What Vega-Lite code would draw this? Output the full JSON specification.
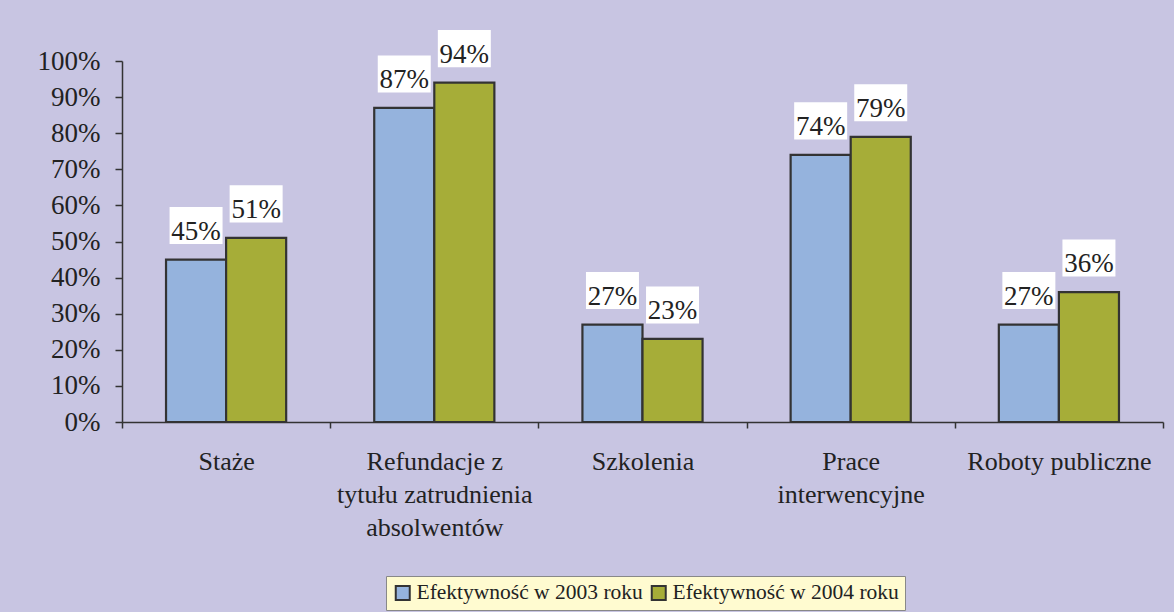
{
  "$schema": "https://vega.github.io/schema/vega-lite/v6.json",
  "width": 1041,
  "height": 361,
  "autosize": {"type": "none"},
  "padding": {"left": 122, "top": 61, "right": 11, "bottom": 190},
  "background": "#C8C5E2",
  "config": {
    "view": {"stroke": null},
    "font": "Liberation Serif",
    "axis": {"labelFont": "Liberation Serif"},
    "legend": {"labelFont": "Liberation Serif"},
    "text": {"font": "Liberation Serif"}
  },
  "data": {
    "values": [
      {"kategoria": "Staże", "seria": "Efektywność w 2003 roku", "wartosc": 0.45},
      {"kategoria": "Staże", "seria": "Efektywność w 2004 roku", "wartosc": 0.51},
      {"kategoria": "Refundacje z tytułu zatrudnienia absolwentów", "seria": "Efektywność w 2003 roku", "wartosc": 0.87},
      {"kategoria": "Refundacje z tytułu zatrudnienia absolwentów", "seria": "Efektywność w 2004 roku", "wartosc": 0.94},
      {"kategoria": "Szkolenia", "seria": "Efektywność w 2003 roku", "wartosc": 0.27},
      {"kategoria": "Szkolenia", "seria": "Efektywność w 2004 roku", "wartosc": 0.23},
      {"kategoria": "Prace interwencyjne", "seria": "Efektywność w 2003 roku", "wartosc": 0.74},
      {"kategoria": "Prace interwencyjne", "seria": "Efektywność w 2004 roku", "wartosc": 0.79},
      {"kategoria": "Roboty publiczne", "seria": "Efektywność w 2003 roku", "wartosc": 0.27},
      {"kategoria": "Roboty publiczne", "seria": "Efektywność w 2004 roku", "wartosc": 0.36}
    ]
  },
  "encoding": {
    "x": {
      "field": "kategoria",
      "type": "nominal",
      "sort": null,
      "scale": {"paddingInner": 0, "paddingOuter": 0},
      "axis": {
        "title": null,
        "labelAngle": 0,
        "domainColor": "#333333",
        "domainWidth": 1.5,
        "tickColor": "#333333",
        "tickWidth": 1.5,
        "tickSize": 6,
        "tickBand": "extent",
        "labelFontSize": 26,
        "labelColor": "#222222",
        "labelLineHeight": 33,
        "labelPadding": 20,
        "labelLimit": 400,
        "labelOverlap": false,
        "labelExpr": "datum.value == 'Refundacje z tytułu zatrudnienia absolwentów' ? ['Refundacje z', 'tytułu zatrudnienia', 'absolwentów'] : datum.value == 'Prace interwencyjne' ? ['Prace', 'interwencyjne'] : datum.label"
      }
    },
    "xOffset": {
      "field": "seria",
      "type": "nominal",
      "scale": {"paddingInner": 0, "paddingOuter": 0.733}
    },
    "y": {
      "field": "wartosc",
      "type": "quantitative",
      "scale": {"domain": [0, 1]},
      "axis": {
        "title": null,
        "values": [0, 0.1, 0.2, 0.3, 0.4, 0.5, 0.6, 0.7, 0.8, 0.9, 1],
        "format": ".0%",
        "grid": false,
        "domainColor": "#333333",
        "domainWidth": 1.5,
        "tickColor": "#333333",
        "tickWidth": 1.5,
        "tickSize": 7,
        "labelPadding": 15,
        "labelFontSize": 27,
        "labelColor": "#222222",
        "labelOverlap": false
      }
    }
  },
  "layer": [
    {
      "mark": {"type": "bar", "stroke": "#333333", "strokeWidth": 2.2},
      "encoding": {
        "color": {
          "field": "seria",
          "type": "nominal",
          "scale": {
            "domain": ["Efektywność w 2003 roku", "Efektywność w 2004 roku"],
            "range": ["#95B3DD", "#A6AD38"]
          },
          "legend": {
            "orient": "none",
            "legendX": 264,
            "legendY": 515,
            "direction": "horizontal",
            "title": null,
            "labelFontSize": 21.5,
            "labelColor": "#222222",
            "labelLimit": 400,
            "symbolType": "square",
            "symbolSize": 196,
            "symbolStrokeColor": "#333333",
            "symbolStrokeWidth": 2,
            "symbolOpacity": 1,
            "fillColor": "#FFFBD0",
            "strokeColor": "#888888",
            "padding": 6,
            "columnPadding": 4,
            "labelOffset": 3
          }
        }
      }
    },
    {
      "mark": {
        "type": "point",
        "shape": "M-1,-0.7H1V0.7H-1Z",
        "filled": true,
        "fill": "white",
        "opacity": 1,
        "strokeWidth": 0,
        "size": 2809,
        "yOffset": -34
      }
    },
    {
      "mark": {
        "type": "text",
        "fontSize": 27,
        "color": "#222222",
        "baseline": "alphabetic",
        "yOffset": -20
      },
      "encoding": {
        "text": {"field": "wartosc", "type": "quantitative", "format": ".0%"}
      }
    }
  ]
}
